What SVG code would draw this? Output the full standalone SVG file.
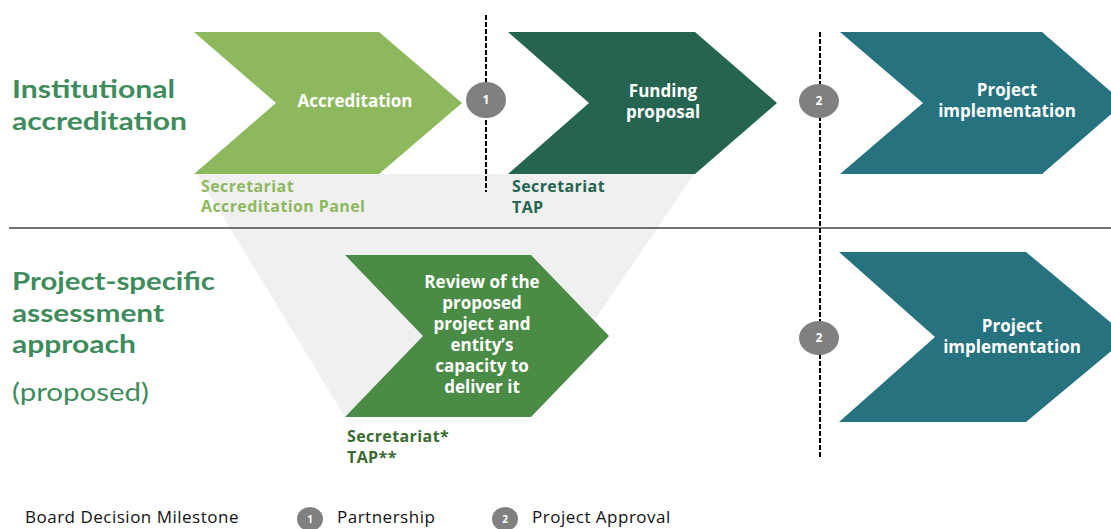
<svg xmlns="http://www.w3.org/2000/svg" width="1111" height="529" viewBox="0 0 1111 529">
<style>
.title{font-family:Lato,"Open Sans","Liberation Sans",sans-serif;font-size:25.5px;font-weight:700;fill:#3e8b5b}
.chev{font-family:"Open Sans","Liberation Sans",sans-serif;font-size:17px;font-weight:700;fill:#ffffff;text-anchor:middle}
.sub{font-family:"Open Sans","Liberation Sans",sans-serif;font-size:16px;font-weight:700;letter-spacing:0.4px}
.legend{font-family:"Open Sans","Liberation Sans",sans-serif;font-size:17px;fill:#111111;letter-spacing:0.5px}
.num{font-family:"Open Sans","Liberation Sans",sans-serif;font-size:12px;font-weight:700;fill:#ffffff;text-anchor:middle}
.dash{stroke:#000000;stroke-width:2;stroke-dasharray:5 2;fill:none}
.ms{fill:#808080}
</style>
<rect width="1111" height="529" fill="#ffffff"/>
<polygon points="197,174 694,174 584,336 345,417" fill="#f0f0f0"/>
<line x1="9" y1="228" x2="1111" y2="228" stroke="#444444" stroke-width="1.5"/>
<g id="connectors">
<line class="dash" x1="486" y1="15" x2="486" y2="192"/>
<line class="dash" x1="820" y1="32" x2="820" y2="458"/>
</g>
<g id="labels">
<text class="title" x="12" y="98" textLength="163" lengthAdjust="spacingAndGlyphs">Institutional</text>
<text class="title" x="12" y="130" textLength="175" lengthAdjust="spacingAndGlyphs">accreditation</text>
<text class="title" x="12" y="290" textLength="203" lengthAdjust="spacingAndGlyphs">Project-specific</text>
<text class="title" x="12" y="321.5" textLength="152" lengthAdjust="spacingAndGlyphs">assessment</text>
<text class="title" x="12" y="353" textLength="124" lengthAdjust="spacingAndGlyphs">approach</text>
<text class="title" x="12" y="401" textLength="137" lengthAdjust="spacingAndGlyphs" style="font-weight:400">(proposed)</text>
</g>
<g id="accreditation">
<path d="M194,32 L379,32 L462,103 L379,174 L194,174 L276,103 Z" fill="#8db85e"/>
<text class="chev" x="355" y="107">Accreditation</text>
<text class="sub" x="201" y="192" fill="#8db85e">Secretariat</text>
<text class="sub" x="201" y="212" fill="#8db85e">Accreditation Panel</text>
</g>
<g id="funding-proposal">
<path d="M508,32 L695,32 L777,103 L695,174 L508,174 L589,103 Z" fill="#256450"/>
<text class="chev" x="663" y="97">Funding</text>
<text class="chev" x="663" y="118">proposal</text>
<text class="sub" x="512" y="192" fill="#256450">Secretariat</text>
<text class="sub" x="512" y="213" fill="#256450">TAP</text>
</g>
<g id="project-implementation-1">
<path d="M840,32 L1042,32 L1124,103 L1042,174 L840,174 L923,103 Z" fill="#26727f"/>
<text class="chev" x="1007" y="96">Project</text>
<text class="chev" x="1007" y="117">implementation</text>
</g>
<g id="review">
<path d="M345,255 L531,255 L609,336 L531,417 L345,417 L423,336 Z" fill="#4a8b46"/>
<text class="chev" x="482" y="288">Review of the</text>
<text class="chev" x="482" y="309">proposed</text>
<text class="chev" x="482" y="330">project and</text>
<text class="chev" x="482" y="351">entity’s</text>
<text class="chev" x="482" y="372">capacity to</text>
<text class="chev" x="482" y="393">deliver it</text>
<text class="sub" x="347" y="442" fill="#3a6b30">Secretariat*</text>
<text class="sub" x="347" y="463" fill="#3a6b30">TAP**</text>
</g>
<g id="project-implementation-2">
<path d="M839,252 L1026,252 L1128,337 L1026,422 L839,422 L935,337 Z" fill="#26727f"/>
<text class="chev" x="1012" y="332">Project</text>
<text class="chev" x="1012" y="353">implementation</text>
</g>
<g id="milestone-1">
<ellipse class="ms" cx="486" cy="100" rx="20" ry="18"/>
<text class="num" x="486" y="104">1</text>
</g>
<g id="milestone-2a">
<ellipse class="ms" cx="819" cy="101" rx="20" ry="17"/>
<text class="num" x="819" y="105">2</text>
</g>
<g id="milestone-2b">
<ellipse class="ms" cx="819" cy="338" rx="20" ry="17"/>
<text class="num" x="819" y="342">2</text>
</g>
<g id="legend">
<text class="legend" x="25" y="523">Board Decision Milestone</text>
<ellipse class="ms" cx="310" cy="519" rx="13" ry="12"/>
<text class="num" x="310" y="523" style="font-size:10px">1</text>
<text class="legend" x="337" y="523">Partnership</text>
<ellipse class="ms" cx="505" cy="519" rx="13" ry="12"/>
<text class="num" x="505" y="523" style="font-size:10px">2</text>
<text class="legend" x="532" y="523">Project Approval</text>
</g>
</svg>
